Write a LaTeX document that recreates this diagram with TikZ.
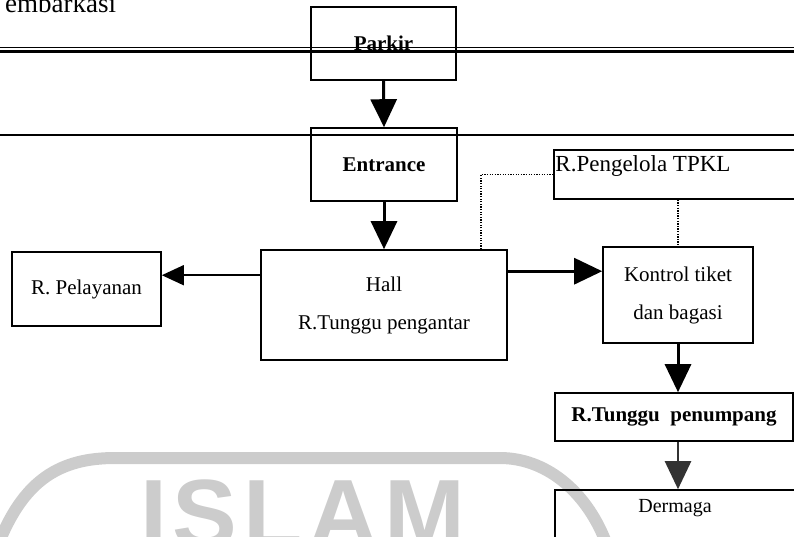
\documentclass[tikz,border=0pt]{standalone}
\usepackage{fontspec}
\setmainfont{Liberation Serif}
\newfontfamily\capfont[LetterSpace=6]{Liberation Sans}
\usetikzlibrary{positioning, arrows.meta}

\begin{document}
\begin{tikzpicture}[x=1pt, y=-1pt,
    teks/.style={inner sep=1pt, font=\fontsize{21}{25}\selectfont},
    kotak/.style={teks, draw, line width=1.6pt, align=center},
    panah/.style={line width=3pt, -{Triangle[width=26pt,length=28pt]}},
    putus/.style={line width=1.5pt, dash pattern=on 1.3pt off 1.3pt}]
    \useasboundingbox (0,0) rectangle (794,536);
    \clip (0,0) rectangle (794,536);

    %% watermark
    \draw[line width=12pt, gray!40] (0,540) .. controls (25,480) and (60,458) .. (115,458)
        -- (500,458) .. controls (545,458) and (585,490) .. (605,540);
    \node[gray!40, anchor=base west, inner sep=0pt, font=\capfont\bfseries\fontsize{97}{97}\selectfont] (capIslam) at (140,547) {ISLAM};

    %% title
    \node[anchor=base west, inner sep=0pt, font=\fontsize{27}{27}\selectfont] (judul) at (5,12) {embarkasi};

    %% boxes
    \node[kotak, minimum width=145pt, minimum height=73pt] (parkir) at (383.5,43.5) {\bfseries Parkir};
    \node[kotak, minimum width=146pt, minimum height=73pt] (entrance) at (384,164.5) {\bfseries Entrance};
    \node[kotak, minimum width=246pt, minimum height=110pt] (hall) at (384,305) {Hall\\[13pt]R.Tunggu pengantar};
    \node[kotak, minimum width=149pt, minimum height=74pt] (pelayanan) at (86.5,289) {R. Pelayanan};
    \node[kotak, minimum width=150pt, minimum height=96pt] (kontrol) at (678,295) {Kontrol tiket\\[13pt]dan bagasi};
    \node[kotak, minimum width=256pt, minimum height=49pt] (pengelola) at (682,174.5) {};
    \node[teks, anchor=west, font=\fontsize{23}{27}\selectfont] (pengelolaTeks) at ([xshift=1pt, yshift=9pt]pengelola.west) {R.Pengelola TPKL};
    \node[kotak, minimum width=238pt, minimum height=48pt] (tunggu) at (674,417) {\bfseries R.Tunggu~~penumpang};
    \node[kotak, minimum width=255pt, minimum height=70pt] (dermaga) at (682.5,525) {};
    \node[teks, font=\fontsize{20}{24}\selectfont] (dermagaTeks) at (675,508) {Dermaga};

    %% lines across
    \draw[line width=0.9pt] (0,47.5) -- (794,47.5);
    \draw[line width=2.4pt] (0,51.5) -- (794,51.5);
    \draw[line width=2pt] (0,135) -- (794,135);

    %% arrows
    \coordinate (hallKiri) at ([yshift=-26pt]hall.north west);
    \coordinate (hallKanan) at ([yshift=-22pt]hall.north east);
    \coordinate (titikHall) at ([xshift=97pt]hall.north);
    \draw[panah] (parkir.south) -- (entrance.north);
    \draw[panah] (entrance.south) -- (hall.north);
    \draw[line width=1.5pt, -{Triangle[width=20pt,length=22pt]}] (hallKiri) -- (hallKiri -| pelayanan.east);
    \draw[panah] (hallKanan) -- (hallKanan -| kontrol.west);
    \draw[panah] (kontrol.south) -- (kontrol.south |- tunggu.north);
    \draw[panah, black!80, line width=2.5pt] (kontrol.south |- tunggu.south) -- (kontrol.south |- dermaga.north);
    \draw[putus] (titikHall) |- (pengelola.west);
    \draw[putus] (pengelola.south -| kontrol.north) -- (kontrol.north);
\end{tikzpicture}
\end{document}
